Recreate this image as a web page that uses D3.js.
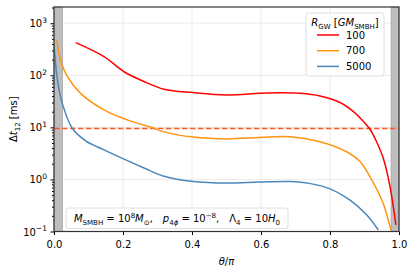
<!DOCTYPE html>
<html>
<head>
<meta charset="utf-8">
<script src="https://cdn.jsdelivr.net/npm/d3@7"></script>
<style>
  body { margin: 0; background: #fff; }
  text { font-family: "DejaVu Sans", sans-serif; fill: #000; }
</style>
</head>
<body>
<div id="chart"></div>
<script>
// values (theta/pi, delta t in ms)
const thetaRed = [0.063, 0.145, 0.203, 0.261, 0.319, 0.404, 0.501, 0.597, 0.655, 0.713, 0.771, 0.829, 0.868, 0.897, 0.916, 0.935, 0.954, 0.974, 0.991]
const dtRed = [425, 229, 117, 76, 54, 46.5, 42, 45, 46, 45, 40, 30, 20, 12.9, 9.2, 5.3, 2.6, 0.73, 0.134]

const thetaOrange = [0.008, 0.019, 0.039, 0.077, 0.145, 0.212, 0.29, 0.319, 0.404, 0.501, 0.597, 0.684, 0.771, 0.848, 0.887, 0.926, 0.954, 0.974, 0.979]
const dtOrange = [464, 197, 94, 45, 21.6, 13.9, 9.6, 8.2, 6.5, 6.0, 6.4, 6.6, 5.3, 3.4, 2.2, 0.85, 0.35, 0.126, 0.1]

const thetaBlue = [0.0, 0.01, 0.024, 0.053, 0.092, 0.145, 0.203, 0.261, 0.319, 0.404, 0.501, 0.597, 0.684, 0.74, 0.8, 0.858, 0.906, 0.94]
const dtBlue = [383, 81, 29, 9.6, 5.5, 3.7, 2.45, 1.66, 1.15, 0.91, 0.85, 0.89, 0.91, 0.84, 0.66, 0.40, 0.21, 0.107]

const seriesNames = ['100', '700', '5000']
const seriesColors = ['#ff0000', '#ff9410', '#4a87bd']
const dashLevel = 9.5
const bands = [[0, 0.025], [0.977, 1.0]]
const xTicks = [0, 0.2, 0.4, 0.6, 0.8, 1.0]
const yTicks = [0.1, 1, 10, 100, 1000]
const yExp = ['\u22121', '0', '1', '2', '3']

const w = 416
const h = 271
const margin = {left: 54, right: 17, top: 7, bottom: 39.5}

const svg = d3.select('#chart').append('svg')
    .attr('width', w)
    .attr('height', h)

const xScale = d3.scaleLinear()
    .domain([0, 1])
    .range([margin.left, w - margin.right])
const yScale = d3.scaleLog()
    .domain([0.1, 2050])
    .range([h - margin.bottom, margin.top])

// grid
svg.append('g').selectAll('line')
    .data(xTicks.slice(1, -1))
    .enter().append('line')
    .attr('x1', d => xScale(d)).attr('x2', d => xScale(d))
    .attr('y1', margin.top).attr('y2', h - margin.bottom)
    .attr('stroke', '#e6e6e6').attr('stroke-width', 0.8)
svg.append('g').selectAll('line')
    .data(yTicks.slice(1))
    .enter().append('line')
    .attr('x1', margin.left).attr('x2', w - margin.right)
    .attr('y1', d => yScale(d)).attr('y2', d => yScale(d))
    .attr('stroke', '#e6e6e6').attr('stroke-width', 0.8)

// grey bands
svg.append('g').selectAll('rect')
    .data(bands)
    .enter().append('rect')
    .attr('x', d => xScale(d[0]))
    .attr('width', d => xScale(d[1]) - xScale(d[0]))
    .attr('y', margin.top)
    .attr('height', h - margin.bottom - margin.top)
    .attr('fill', '#bdbdbd')
    .attr('stroke', '#9a9a9a')
    .attr('stroke-width', 0.6)

// dashed level
svg.append('line')
    .attr('x1', margin.left).attr('x2', w - margin.right)
    .attr('y1', yScale(dashLevel)).attr('y2', yScale(dashLevel))
    .attr('stroke', '#ff5a28').attr('stroke-width', 1.5)
    .attr('stroke-dasharray', '5.5,2.5')

// curves
const allSeries = [
    d3.zip(thetaRed, dtRed),
    d3.zip(thetaOrange, dtOrange),
    d3.zip(thetaBlue, dtBlue)
]
const line = d3.line()
    .x(d => xScale(d[0]))
    .y(d => yScale(d[1]))
    .curve(d3.curveCatmullRom.alpha(0.5))

svg.append('defs').append('clipPath').attr('id', 'clip')
    .append('rect')
    .attr('x', margin.left).attr('y', margin.top)
    .attr('width', w - margin.left - margin.right)
    .attr('height', h - margin.top - margin.bottom)

svg.append('g').attr('clip-path', 'url(#clip)')
    .selectAll('path')
    .data(allSeries)
    .enter().append('path')
    .attr('d', line)
    .attr('fill', 'none')
    .attr('stroke', (d, i) => seriesColors[i])
    .attr('stroke-width', 1.5)

// axes
const xAxis = d3.axisBottom(xScale)
    .tickValues(xTicks)
    .tickFormat(d3.format('.1f'))
    .tickSize(3.5)
const gx = svg.append('g')
    .attr('transform', `translate(0,${h - margin.bottom})`)
    .call(xAxis)
gx.select('.domain').remove()
gx.selectAll('text').attr('font-size', 10).attr('font-family', 'DejaVu Sans').attr('dy', '0.95em')

const minor = []
for (let e = -1; e < 4; e++) {
    for (let m = 2; m < 10; m++) {
        const v = m * Math.pow(10, e)
        if (v < 2050) minor.push(v)
    }
}
const gyMinor = svg.append('g')
    .attr('transform', `translate(${margin.left},0)`)
    .call(d3.axisLeft(yScale).tickValues(minor).tickFormat('').tickSize(2))
gyMinor.select('.domain').remove()

const gy = svg.append('g')
    .attr('transform', `translate(${margin.left},0)`)
    .call(d3.axisLeft(yScale).tickValues(yTicks).tickFormat('').tickSize(3.5))
gy.select('.domain').remove()

const yLab = svg.append('g').selectAll('text')
    .data(yTicks)
    .enter().append('text')
    .attr('x', margin.left - 7)
    .attr('y', d => yScale(d) + 4)
    .attr('text-anchor', 'end')
    .attr('font-size', 10)
yLab.append('tspan').text('10')
yLab.append('tspan')
    .attr('dy', -4.5)
    .attr('font-size', 7.5)
    .text((d, i) => yExp[i])

// frame
svg.append('rect')
    .attr('x', margin.left).attr('y', margin.top)
    .attr('width', w - margin.left - margin.right)
    .attr('height', h - margin.top - margin.bottom)
    .attr('fill', 'none')
    .attr('stroke', '#333')
    .attr('stroke-width', 1.2)

// axis labels
const xl = svg.append('text')
    .attr('x', (margin.left + w - margin.right) / 2)
    .attr('y', 265)
    .attr('text-anchor', 'middle')
    .attr('font-size', 10)
xl.append('tspan').attr('font-style', 'italic').text('\u03b8')
xl.append('tspan').text('/')
xl.append('tspan').attr('font-style', 'italic').text('\u03c0')

const yl = svg.append('text')
    .attr('transform', `translate(17,${(margin.top + h - margin.bottom) / 2}) rotate(-90)`)
    .attr('text-anchor', 'middle')
    .attr('font-size', 10)
yl.append('tspan').text('\u0394')
yl.append('tspan').attr('font-style', 'italic').text('t')
yl.append('tspan').attr('font-size', 7).attr('dy', 2.5).text('12')
yl.append('tspan').attr('dy', -2.5).text(' [ms]')

// legend
const lg = svg.append('g')
lg.append('rect')
    .attr('x', 306).attr('y', 13)
    .attr('width', 78).attr('height', 63)
    .attr('rx', 2.5)
    .attr('fill', '#fff')
    .attr('fill-opacity', 0.85)
    .attr('stroke', '#d5d5d5')
    .attr('stroke-width', 0.8)
const lt = lg.append('text')
    .attr('x', 345).attr('y', 26)
    .attr('text-anchor', 'middle')
    .attr('font-size', 10)
lt.append('tspan').attr('font-style', 'italic').text('R')
lt.append('tspan').attr('font-size', 7).attr('dy', 2.5).text('GW')
lt.append('tspan').attr('dy', -2.5).text(' [')
lt.append('tspan').attr('font-style', 'italic').text('GM')
lt.append('tspan').attr('font-size', 7).attr('dy', 2.5).text('SMBH')
lt.append('tspan').attr('dy', -2.5).text(']')

const rows = lg.selectAll('g.row')
    .data(seriesNames)
    .enter().append('g')
    .attr('class', 'row')
    .attr('transform', (d, i) => `translate(0,${35 + i * 15.7})`)
rows.append('line')
    .attr('x1', 317).attr('x2', 339)
    .attr('y1', 0).attr('y2', 0)
    .attr('stroke', (d, i) => seriesColors[i])
    .attr('stroke-width', 1.5)
rows.append('text')
    .attr('x', 346).attr('y', 3.6)
    .attr('font-size', 10)
    .text(d => d)

// parameter box
const pb = svg.append('g')
pb.append('rect')
    .attr('x', 66).attr('y', 208)
    .attr('width', 222).attr('height', 20.5)
    .attr('rx', 2.5)
    .attr('fill', '#fff')
    .attr('fill-opacity', 0.85)
    .attr('stroke', '#d5d5d5')
    .attr('stroke-width', 0.8)
const pt = pb.append('text')
    .attr('x', 177).attr('y', 222)
    .attr('text-anchor', 'middle')
    .attr('font-size', 10)
pt.append('tspan').attr('font-style', 'italic').text('M')
pt.append('tspan').attr('font-size', 7).attr('dy', 2.5).text('SMBH')
pt.append('tspan').attr('dy', -2.5).text(' = 10')
pt.append('tspan').attr('font-size', 7).attr('dy', -4).text('8')
pt.append('tspan').attr('dy', 4).attr('font-style', 'italic').text('M')
pt.append('tspan').attr('font-size', 7).attr('dy', 2.5).text('\u2299')
pt.append('tspan').attr('dy', -2.5).text(',\u2003')
pt.append('tspan').attr('font-style', 'italic').text('p')
pt.append('tspan').attr('font-size', 7).attr('dy', 2.5).text('4')
pt.append('tspan').attr('font-size', 7).attr('font-style', 'italic').text('\u03d5')
pt.append('tspan').attr('dy', -2.5).text(' = 10')
pt.append('tspan').attr('font-size', 7).attr('dy', -4).text('\u22128')
pt.append('tspan').attr('dy', 4).text(',\u2003\u039b')
pt.append('tspan').attr('font-size', 7).attr('dy', 2.5).text('4')
pt.append('tspan').attr('dy', -2.5).text(' = 10')
pt.append('tspan').attr('font-style', 'italic').text('H')
pt.append('tspan').attr('font-size', 7).attr('dy', 2.5).text('0')
</script>
</body>
</html>
